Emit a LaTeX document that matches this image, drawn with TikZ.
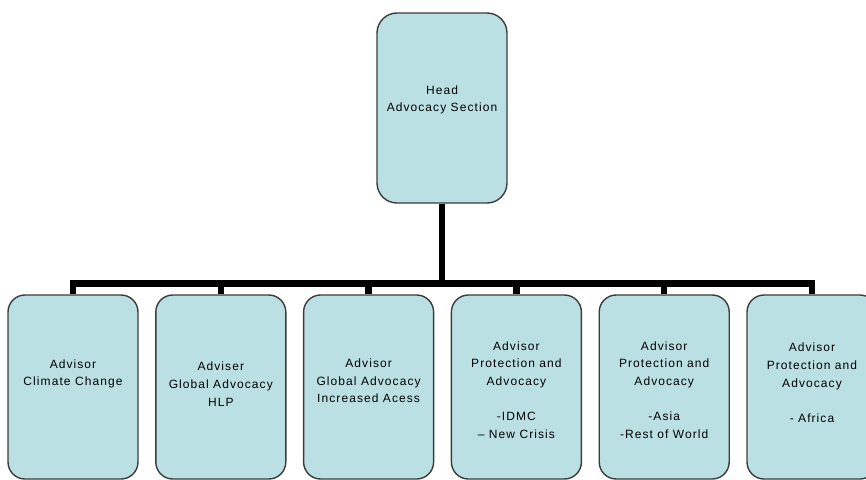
\documentclass[tikz,border=0pt]{standalone}
\usepackage{fontspec}
\usetikzlibrary{calc}
\newfontfamily\orgfont[LetterSpace=9]{Liberation Sans}
\definecolor{boxblue}{RGB}{187,224,228}
\definecolor{boxedge}{RGB}{60,60,60}
\tikzset{
  orgbox/.style={draw=boxedge,line width=1.4pt,fill=boxblue,rounded corners=17pt,
    minimum width=130pt,inner sep=0pt},
  orgtext/.style={align=center,inner sep=0pt,
    font=\orgfont\fontsize{12}{17.7}\selectfont},
  orgline/.style={line width=6.5pt,black,line join=miter}
}
\begin{document}
\begin{tikzpicture}[x=1pt,y=-1pt]
        \useasboundingbox (0,0) rectangle (866,479);
        \clip (0,0) rectangle (866,479);
        % top box
        \node[orgbox,minimum height=190pt,rounded corners=20pt] (head) at (442,108){};
        \node[orgtext] (headtxt) at ($(head.center)+(0,-8)$){Head\\Advocacy Section};
        \coordinate (bar) at (442,283.5);
        % advisors
        \foreach \i/\dy/\txt in {
            1/-13/{Advisor\\Climate Change},
            2/-3/{Adviser\\Global Advocacy\\HLP},
            3/-6/{Advisor\\Global Advocacy\\Increased Acess},
            4/3/{Advisor\\Protection and\\Advocacy\\[17.7pt]-IDMC\\– New Crisis},
            5/3/{Advisor\\Protection and\\Advocacy\\[17.7pt]-Asia\\-Rest of World},
            6/-4/{Advisor\\Protection and\\Advocacy\\[17.7pt]- Africa}}{
          \node[orgbox,minimum height=184pt] (adv\i) at (73+147.8*\i-147.8,387){};
          \node[orgtext] (advtxt\i) at ($(adv\i.center)+(0,\dy)$){\txt};
          \draw[orgline] (head.south) -- (head.south |- bar) -| (adv\i.north);
        }
    \end{tikzpicture}
\end{document}
